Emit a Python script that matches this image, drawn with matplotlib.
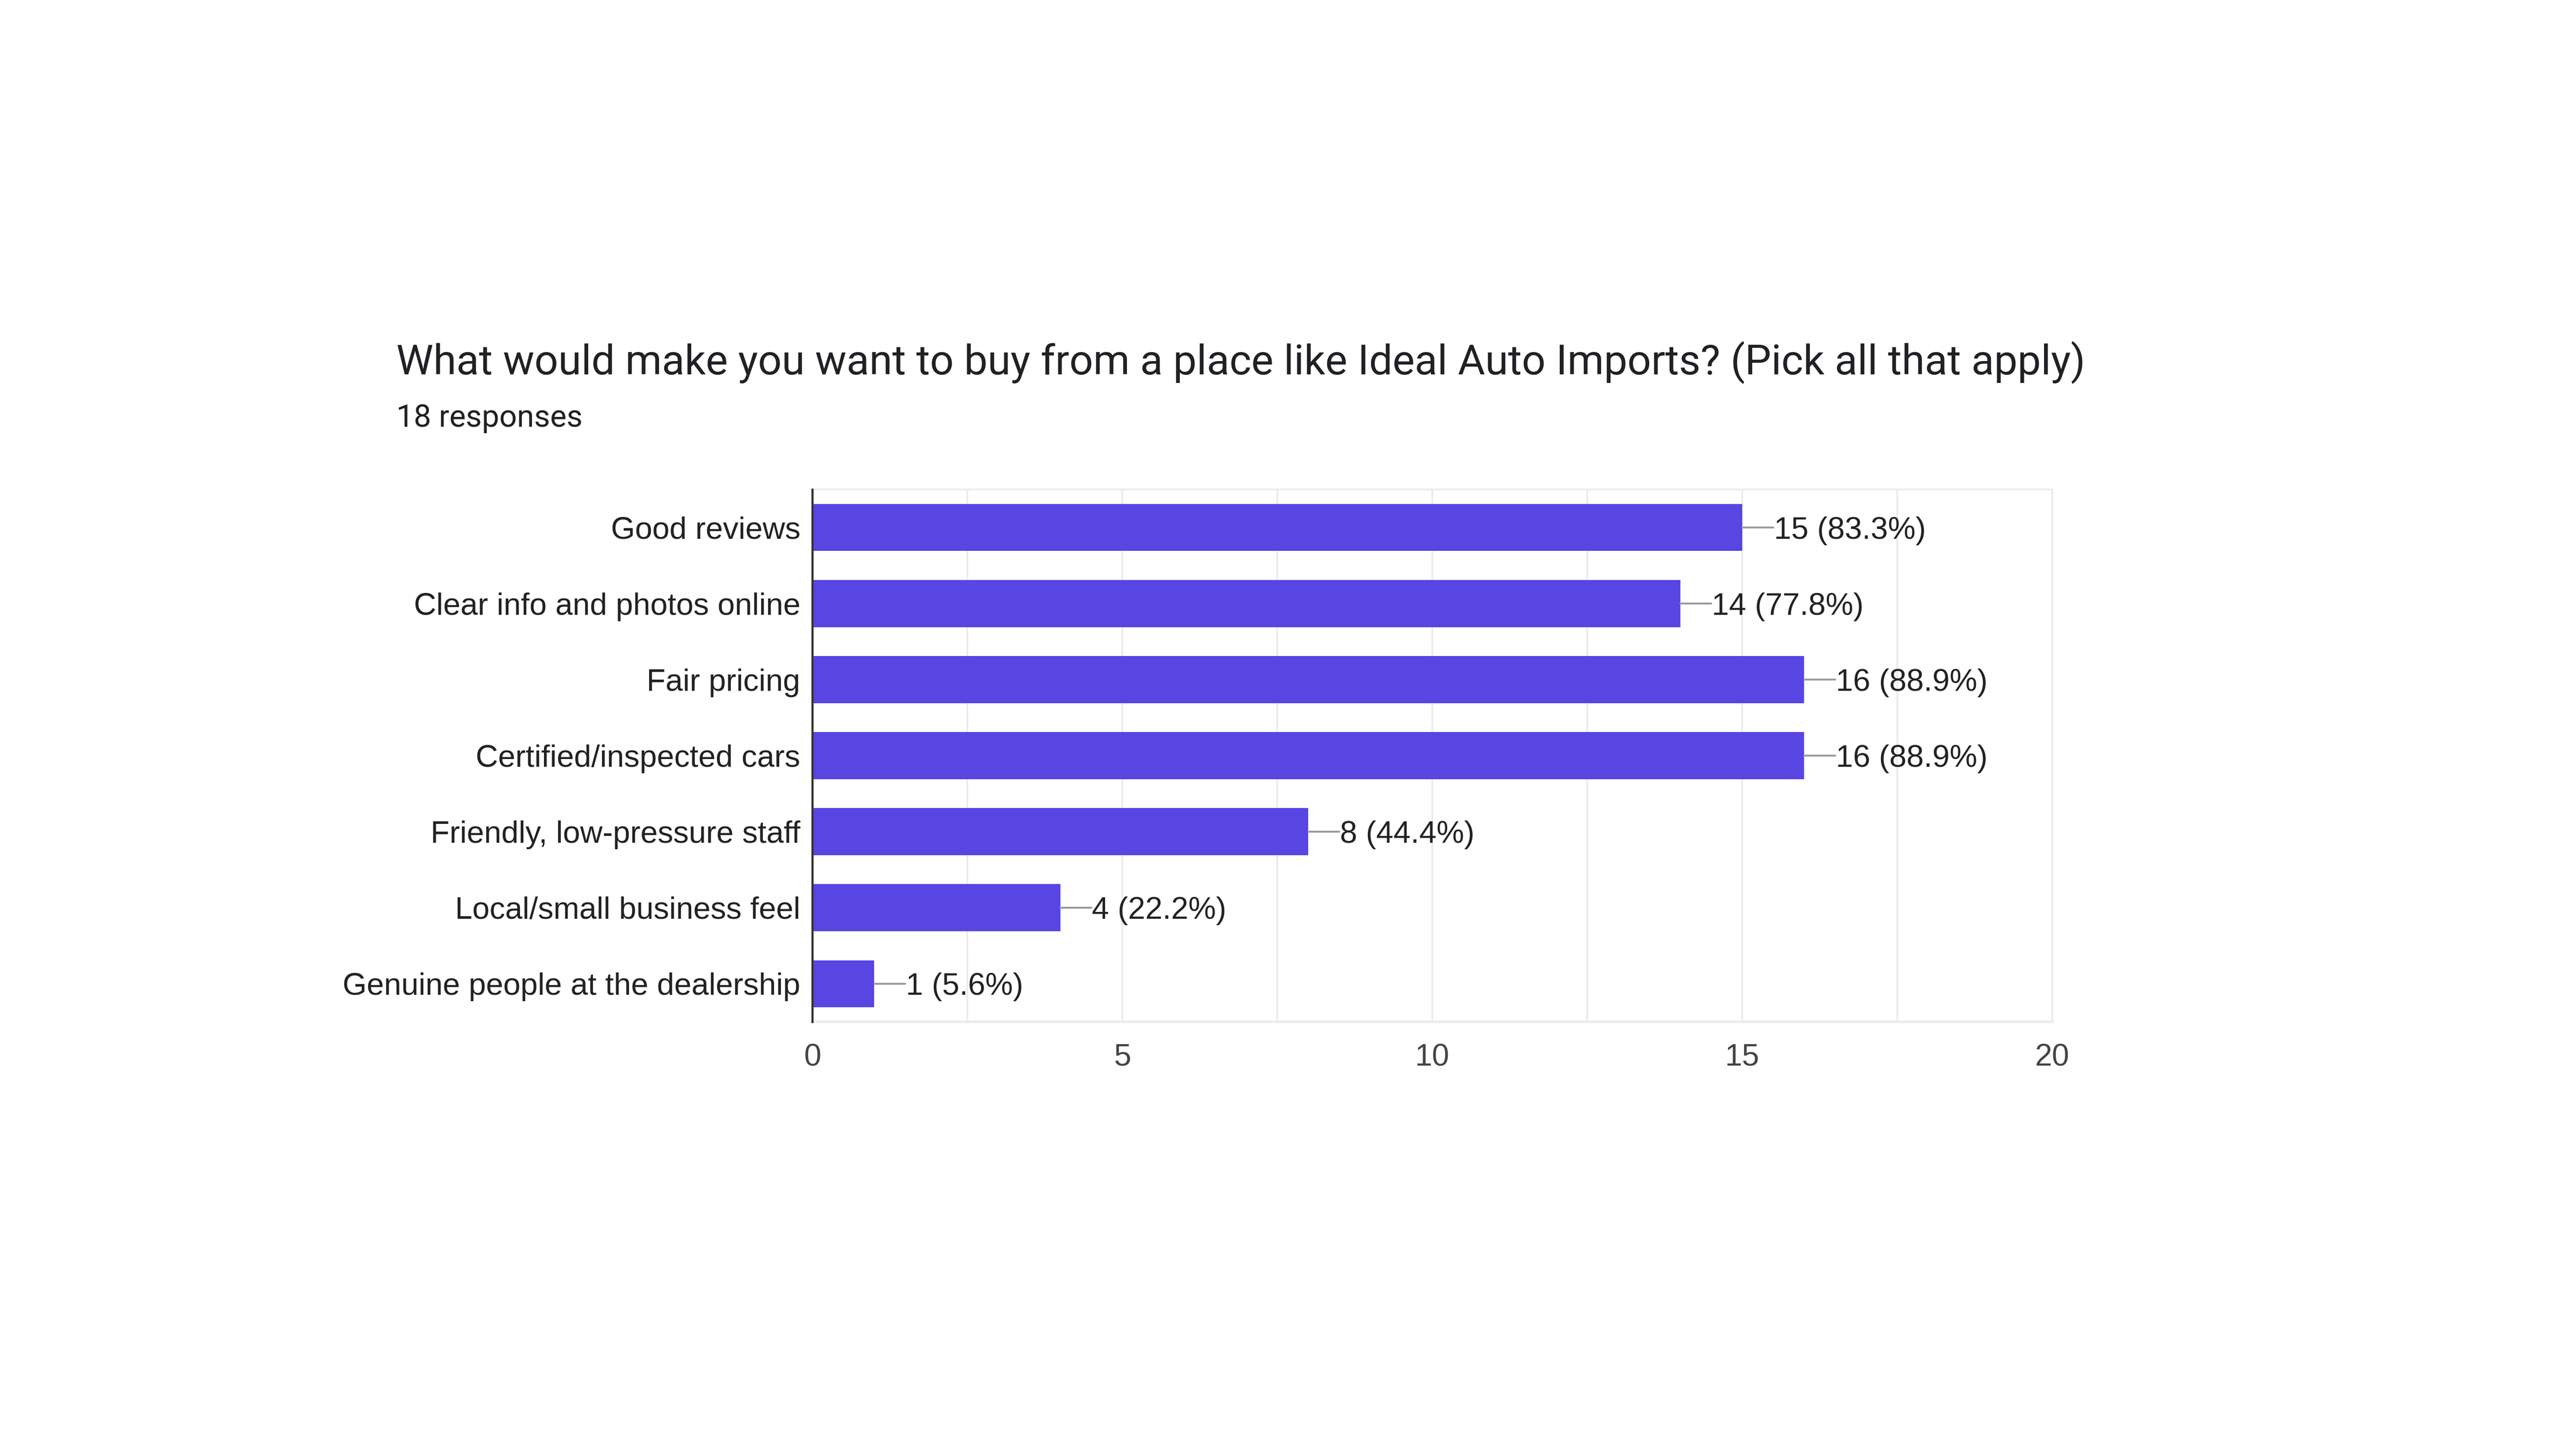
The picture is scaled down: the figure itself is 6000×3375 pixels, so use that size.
import matplotlib.pyplot as plt
plt.switch_backend('agg')

# survey data
categories = ['Good reviews', 'Clear info and photos online', 'Fair pricing',
              'Certified/inspected cars', 'Friendly, low-pressure staff',
              'Local/small business feel', 'Genuine people at the dealership']
counts = [15, 14, 16, 16, 8, 4, 1]
percents = [83.3, 77.8, 88.9, 88.9, 44.4, 22.2, 5.6]
n_responses = 18
xticks = [0, 5, 10, 15, 20]

title = 'What would make you want to buy from a place like Ideal Auto Imports? (Pick all that apply)'

bar_color = '#5845e2'
grid_color = '#ebebeb'
label_font = ['Liberation Sans', 'DejaVu Sans']

fig = plt.figure(figsize=(60, 33.75), dpi=100)
fig.patch.set_facecolor('white')

fig.text(923/6000, 1-872/3375, title, fontsize=70, family=['Roboto', 'DejaVu Sans'],
         color='#202124', ha='left', va='baseline')
fig.text(923/6000, 1-994/3375, '%d responses' % n_responses, fontsize=52,
         family=['Roboto', 'DejaVu Sans'], color='#202124', ha='left', va='baseline')

ax = fig.add_axes([1892/6000, 995/3375, (4780-1892)/6000, (2380-1140)/3375])
y = list(range(len(categories)))
ax.barh(y, counts, height=0.62, color=bar_color, zorder=3)

ax.set_xlim(0, 20)
ax.set_ylim(len(categories)-0.5, -0.5)
ax.set_xticks(xticks)
ax.set_xticks([2.5, 7.5, 12.5, 17.5], minor=True)
ax.set_yticks(y)
ax.set_yticklabels(categories)
ax.grid(True, axis='x', which='both', color=grid_color, lw=3, zorder=0)
ax.tick_params(axis='both', which='both', length=0)
ax.tick_params(axis='y', pad=20, labelsize=52, labelcolor='#222222')
ax.tick_params(axis='x', pad=36, labelsize=52, labelcolor='#444444')
for lab in ax.get_xticklabels() + ax.get_yticklabels():
    lab.set_family(label_font)

for side in ['top', 'right', 'bottom']:
    ax.spines[side].set_color(grid_color)
    ax.spines[side].set_linewidth(3)
ax.spines['bottom'].set_linewidth(4)
ax.spines['left'].set_color('#333333')
ax.spines['left'].set_linewidth(3.5)
ax.spines['left'].set_zorder(5)

for i, (c, p) in enumerate(zip(counts, percents)):
    # short grey leader line from bar end to the label
    ax.annotate('', xy=(c, i), xytext=(52, 0), textcoords='offset points',
                arrowprops=dict(arrowstyle='-', color='#999999', lw=3.2,
                                shrinkA=0, shrinkB=0))
    ax.annotate('%d (%.1f%%)' % (c, p), xy=(c, i), xytext=(53, 0),
                textcoords='offset points', ha='left', va='center_baseline',
                fontsize=52, family=label_font, color='#222222')

fig.savefig('out.png', dpi=100, facecolor='white')
